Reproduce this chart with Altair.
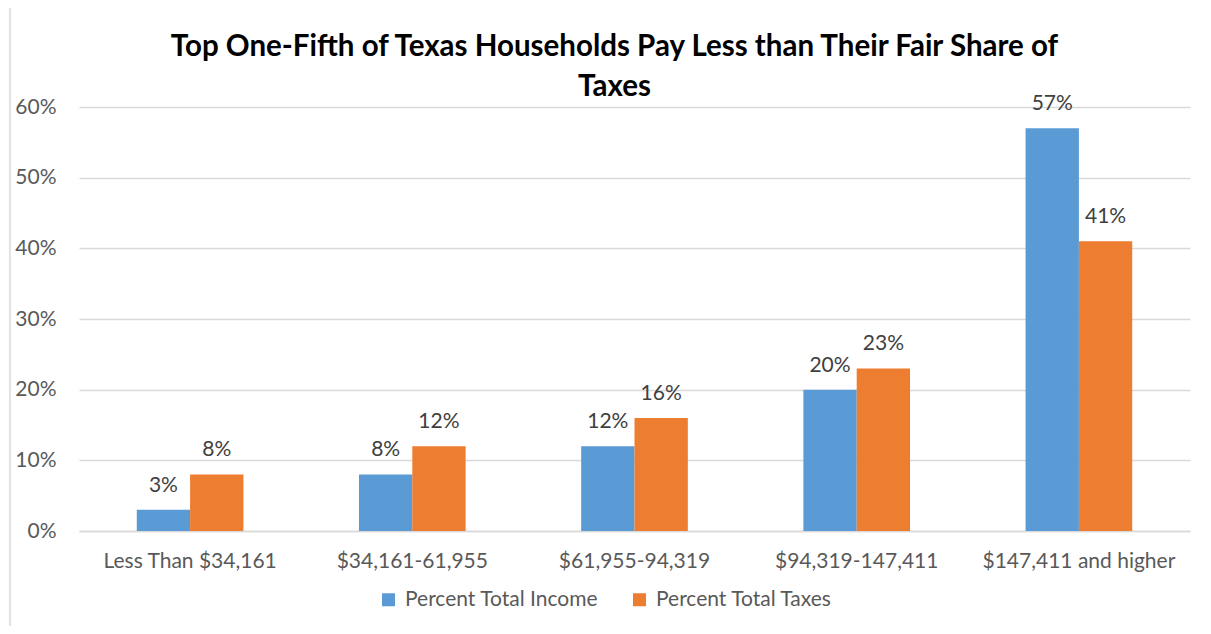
import altair as alt
import pandas as pd

categories = ["Less Than $34,161", "$34,161-61,955", "$61,955-94,319", "$94,319-147,411", "$147,411 and higher"]
income = [3, 8, 12, 20, 57]
taxes = [8, 12, 16, 23, 41]
series = ["Percent Total Income", "Percent Total Taxes"]
colors = ["#5B9BD5", "#ED7D31"]

rows = []
for c, i, t in zip(categories, income, taxes):
    rows.append({"cat": c, "series": series[0], "value": i / 100})
    rows.append({"cat": c, "series": series[1], "value": t / 100})
df = pd.DataFrame(rows)

FONT = "Lato"
FS = 21

x = alt.X("cat:N", sort=categories, title=None,
          scale=alt.Scale(paddingInner=0.52, paddingOuter=0.26),
          axis=alt.Axis(labelAngle=0, labelFontSize=FS, labelColor="#595959", labelFont=FONT,
                        labelPadding=19, ticks=False, domain=True, domainColor="#d9d9d9", domainWidth=1.5,
                        labelLimit=0))
y = alt.Y("value:Q", title=None,
          scale=alt.Scale(domain=[0, 0.6]),
          axis=alt.Axis(format=".0%", values=[0, 0.1, 0.2, 0.3, 0.4, 0.5, 0.6], labelFontSize=FS,
                        labelColor="#595959", labelFont=FONT, labelPadding=23, ticks=False,
                        domain=False, gridColor="#d9d9d9", gridWidth=1.5))
xo = alt.XOffset("series:N", sort=series, scale=alt.Scale(paddingInner=0))

base = alt.Chart(df)
bars = base.mark_bar().encode(
    x=x, y=y, xOffset=xo,
    color=alt.Color("series:N", sort=series, scale=alt.Scale(domain=series, range=colors),
                    legend=alt.Legend(title=None, orient="none", legendX=299, legendY=482,
                                      direction="horizontal", symbolType="square", symbolSize=169,
                                      symbolStrokeWidth=0, labelFontSize=FS, labelColor="#595959",
                                      labelFont=FONT, columnPadding=30, labelOffset=6, labelLimit=0)),
)
labels = base.mark_text(baseline="alphabetic", dy=-18, fontSize=FS, color="#404040", font=FONT).encode(
    x=x, y=y, xOffset=xo, text=alt.Text("value:Q", format=".0%"))

border = alt.Chart(pd.DataFrame({"a": [0]})).mark_rect(fill=None, stroke="#d9d9d9", strokeWidth=1.5).encode(
    x=alt.value(-69), x2=alt.value(1125), y=alt.value(-100), y2=alt.value(530))

chart = alt.layer(border, bars, labels).properties(
    width=1111, height=424,
    title=alt.Title(["Top One-Fifth of Texas Households Pay Less than Their Fair Share of", "Taxes"],
                    fontSize=29.5, font=FONT, fontWeight="bold", color="#000000", lineHeight=40,
                    anchor="middle", offset=8, dy=104, dx=-20, frame="group"),
    autosize=alt.AutoSizeParams(type="none"),
    padding={"left": 71, "top": 99, "right": 13, "bottom": 95},
).configure_view(stroke=None)

chart.save("out.html", embed_options={"renderer": "svg", "actions": False})
